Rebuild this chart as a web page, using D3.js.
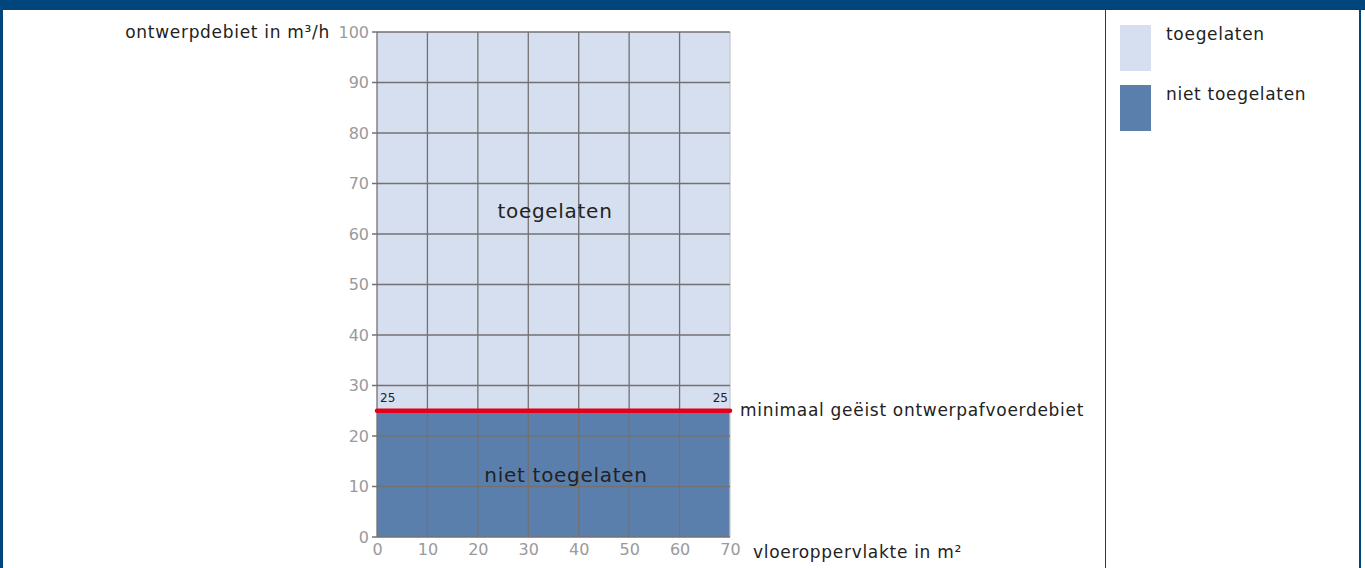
<!DOCTYPE html>
<html>
<head>
<meta charset="utf-8">
<style>
  body { margin: 0; background: #fff; }
  svg { display: block; font-family: "DejaVu Sans", sans-serif; }
  .lbl { letter-spacing: 0.7px; }
</style>
</head>
<body>
<svg width="1365" height="568"></svg>
<script src="https://cdn.jsdelivr.net/npm/d3@7"></script>
<script>
// data
var xTicks = [0, 10, 20, 30, 40, 50, 60, 70];
var yTicks = [0, 10, 20, 30, 40, 50, 60, 70, 80, 90, 100];
var zones = ["toegelaten", "niet toegelaten"];
var zoneColors = ["#d6dfef", "#5b7fad"];
var minFlow = 25;
var xMax = 70, yMax = 100;

var svg = d3.select("svg");

// frame
svg.append("rect").attr("x", 0).attr("y", 0).attr("width", 1365).attr("height", 10).attr("fill", "#00457c");
svg.append("rect").attr("x", 0).attr("y", 0).attr("width", 3).attr("height", 568).attr("fill", "#00457c");
svg.append("rect").attr("x", 1359).attr("y", 0).attr("width", 2).attr("height", 568).attr("fill", "#00457c");
svg.append("line").attr("x1", 1105.5).attr("x2", 1105.5).attr("y1", 10).attr("y2", 568)
    .attr("stroke", "#00457c").attr("stroke-width", 1);

var x = d3.scaleLinear().domain([0, xMax]).range([377, 730]);
var y = d3.scaleLinear().domain([0, yMax]).range([537, 32]);

// zones
svg.append("rect").attr("x", x(0)).attr("y", y(yMax))
    .attr("width", x(xMax) - x(0)).attr("height", y(minFlow) - y(yMax))
    .attr("fill", zoneColors[0]);
svg.append("rect").attr("x", x(0)).attr("y", y(minFlow))
    .attr("width", x(xMax) - x(0)).attr("height", y(0) - y(minFlow))
    .attr("fill", zoneColors[1]);

// grid
var grid = svg.append("g").attr("stroke", "#727272").attr("stroke-width", 1.3);
grid.selectAll(".gx").data(xTicks).join("line")
    .attr("x1", d => x(d)).attr("x2", d => x(d))
    .attr("y1", y(0)).attr("y2", y(yMax))
    .attr("stroke", d => d === xMax ? "#c8c8c8" : null);
grid.selectAll(".gy").data(yTicks).join("line")
    .attr("x1", x(0) - 5).attr("x2", x(xMax))
    .attr("y1", d => y(d)).attr("y2", d => y(d));

// axes labels
var yAxis = svg.append("g").attr("transform", "translate(" + x(0) + ",0)")
    .call(d3.axisLeft(y).tickValues(yTicks).tickSize(0).tickPadding(8));
yAxis.select(".domain").remove();
yAxis.selectAll("text").attr("fill", "#9a9a9a").attr("font-size", 16)
    .attr("font-family", "DejaVu Sans");

var xAxis = svg.append("g").attr("transform", "translate(0," + y(0) + ")")
    .call(d3.axisBottom(x).tickValues(xTicks).tickSize(0).tickPadding(7));
xAxis.select(".domain").remove();
xAxis.selectAll("text").attr("fill", "#9a9a9a").attr("font-size", 16)
    .attr("font-family", "DejaVu Sans");

svg.append("text").attr("class", "lbl").attr("x", 330).attr("y", 38).attr("text-anchor", "end")
    .attr("font-size", 17).attr("fill", "#222").text("ontwerpdebiet in m³/h");
svg.append("text").attr("class", "lbl").attr("x", 753).attr("y", 558)
    .attr("font-size", 17).attr("fill", "#222").text("vloeroppervlakte in m²");

// minimum line
svg.append("line").attr("x1", x(0)).attr("x2", x(xMax))
    .attr("y1", y(minFlow)).attr("y2", y(minFlow))
    .attr("stroke", "#e2001a").attr("stroke-width", 4.5).attr("stroke-linecap", "round");
svg.append("text").attr("x", x(0) + 3).attr("y", y(minFlow) - 9)
    .attr("font-size", 12).attr("fill", "#222").text(minFlow);
svg.append("text").attr("x", x(xMax) - 2).attr("y", y(minFlow) - 9).attr("text-anchor", "end")
    .attr("font-size", 12).attr("fill", "#222").text(minFlow);
svg.append("text").attr("class", "lbl").attr("x", 740).attr("y", y(minFlow) + 5)
    .attr("font-size", 17).attr("fill", "#222").text("minimaal geëist ontwerpafvoerdebiet");

// zone labels
svg.append("text").attr("class", "lbl").attr("x", 555).attr("y", 218).attr("text-anchor", "middle")
    .attr("font-size", 20).attr("fill", "#222").text(zones[0]);
svg.append("text").attr("class", "lbl").attr("x", 566).attr("y", 482).attr("text-anchor", "middle")
    .attr("font-size", 20).attr("fill", "#222").text(zones[1]);

// legend
var legend = svg.append("g").selectAll("g").data(zones).join("g")
    .attr("transform", (d, i) => "translate(1120," + (25 + i * 60) + ")");
legend.append("rect").attr("width", 31).attr("height", 46)
    .attr("fill", (d, i) => zoneColors[i]);
legend.append("text").attr("class", "lbl").attr("x", 46).attr("y", 15)
    .attr("font-size", 17).attr("fill", "#222").text(d => d);
</script>
</body>
</html>
